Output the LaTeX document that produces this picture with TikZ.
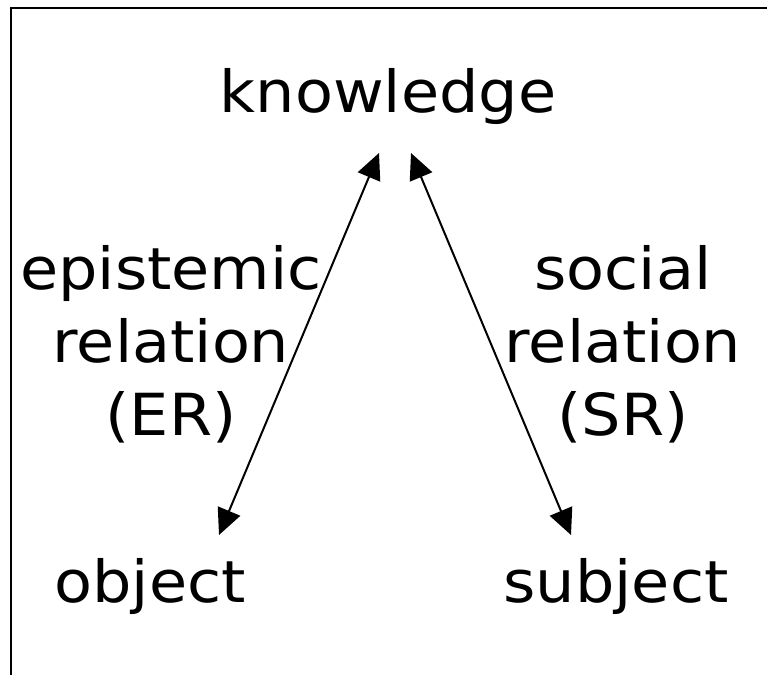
\documentclass[tikz,border=0pt]{standalone}
\usepackage{fontspec}
\setmainfont{DejaVu Sans}
\usetikzlibrary{arrows.meta,positioning}

\begin{document}
\begin{tikzpicture}[x=1pt,y=1pt]
    \tikzset{word/.style = {inner sep=0pt, xscale=1.07,
        font=\fontsize{58}{73}\selectfont},
      relation/.style = {word, align=center},
      link/.style = {line width=2pt,
        {Triangle[length=26pt,width=24pt]}-{Triangle[length=26pt,width=24pt]}}}
    \useasboundingbox (0,0) rectangle (767,675);
    \draw[line width=2.5pt] (11,0) -- (11,667) -- (767,667);
    % the three corners
    \node[word,anchor=base] (know) at (388,562) {knowledge};
    \node[word,anchor=base] (obj) at (150,73) {object};
    \node[word,anchor=base] (subj) at (616,73) {subject};
    % arrow ends
    \coordinate (kl) at (379,522);
    \coordinate (kr) at (411,522);
    \coordinate (ol) at (219,140);
    \coordinate (sr) at (571,140);
    \draw[link] (ol) -- (kl);
    \draw[link] (sr) -- (kr);
    \node[relation] (er) at (171,331) {epistemic\\relation\\(ER)};
    \node[relation] (sr) at (623,331) {social\\relation\\(SR)};
  \end{tikzpicture}
\end{document}
